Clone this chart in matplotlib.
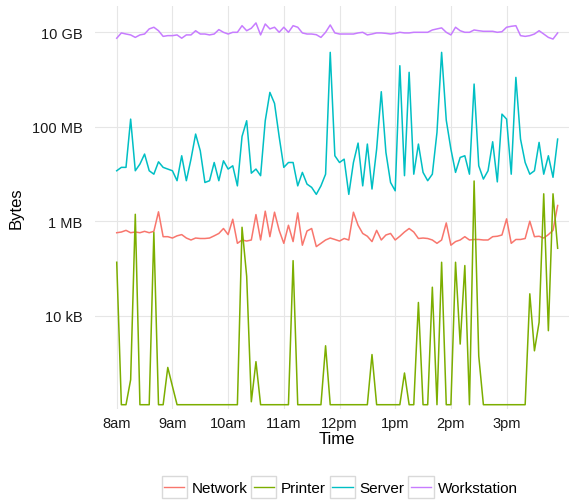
import pandas as pd
import matplotlib
matplotlib.use("Agg")
import matplotlib.pyplot as plt
from matplotlib.legend_handler import HandlerBase
from matplotlib.patches import Rectangle
from matplotlib.lines import Line2D
from matplotlib.ticker import NullLocator

plt.rcParams["font.family"] = ["Liberation Sans", "DejaVu Sans"]

KB, MB, GB = 1e3, 1e6, 1e9

# readings every 5 minutes from 8am
network_mb = [
    0.57, 0.59, 0.64, 0.57, 0.59, 0.57, 0.61, 0.57, 0.61, 1.58,
    0.47, 0.47, 0.44, 0.49, 0.52, 0.44, 0.40, 0.44, 0.43, 0.43,
    0.44, 0.49, 0.55, 0.70, 0.52, 1.10, 0.34, 0.40, 0.38, 0.40,
    1.38, 0.40, 1.63, 0.47, 1.55, 0.64, 0.34, 0.82, 0.37, 1.50,
    0.31, 0.62, 0.70, 0.29, 0.34, 0.40, 0.44, 0.41, 0.38, 0.43,
    0.40, 1.55, 0.82, 0.55, 0.48, 0.37, 0.64, 0.40, 0.51, 0.55,
    0.40, 0.48, 0.59, 0.70, 0.59, 0.43, 0.44, 0.43, 0.40, 0.34,
    0.40, 0.92, 0.31, 0.37, 0.40, 0.47, 0.40, 0.41, 0.41, 0.40,
    0.40, 0.47, 0.48, 0.51, 1.12, 0.34, 0.41, 0.41, 0.43, 1.00,
    0.47, 0.48, 0.44, 0.52, 0.64, 2.15,
]
printer_kb = [
    135, 0.13, 0.13, 0.44, 1400, 0.13, 0.13, 0.13, 580, 0.13,
    0.13, 0.80, 0.32, 0.13, 0.13, 0.13, 0.13, 0.13, 0.13, 0.13,
    0.13, 0.13, 0.13, 0.13, 0.13, 0.13, 0.13, 744, 68, 0.15,
    1.06, 0.13, 0.13, 0.13, 0.13, 0.13, 0.13, 0.13, 146, 0.13,
    0.13, 0.13, 0.13, 0.13, 0.13, 2.3, 0.13, 0.13, 0.13, 0.13,
    0.13, 0.13, 0.13, 0.13, 0.13, 1.5, 0.13, 0.13, 0.13, 0.13,
    0.13, 0.13, 0.61, 0.13, 0.13, 19, 0.13, 0.13, 40, 0.13,
    135, 0.13, 0.13, 135, 2.5, 115, 0.13, 7100, 1.4, 0.13,
    0.13, 0.13, 0.13, 0.13, 0.13, 0.13, 0.13, 0.13, 0.13, 29,
    1.8, 7.2, 3800, 4.8, 3800, 267,
]
server_mb = [
    11.7, 13.8, 13.8, 145, 11.7, 16.2, 26.4, 11.7, 9.9, 18.1,
    13.8, 12.7, 11.7, 7.2, 24.3, 7.2, 20.6, 70, 31.0, 6.6,
    7.2, 17.5, 7.2, 19.0, 12.7, 14.9, 5.6, 62.4, 134, 10.4,
    12.7, 9.2, 134, 534, 312, 61.4, 13.8, 17.5, 17.5, 5.6,
    10.8, 6.1, 5.2, 3.7, 5.6, 9.9, 3760, 24.3, 17.5, 20.6,
    3.7, 17.5, 45.1, 5.6, 43.0, 4.8, 33.6, 552, 28.6, 6.6,
    4.4, 1960, 9.2, 1420, 9.9, 43.0, 10.8, 7.2, 9.9, 75.9,
    3760, 138, 33.6, 10.8, 22.4, 24.3, 9.9, 802, 14.9, 7.8,
    11.7, 48.1, 6.8, 185, 145, 9.9, 1110, 54.8, 17.5, 9.9,
    11.7, 46.6, 9.9, 24.3, 8.5, 54.8,
]
workstation_gb = [
    7.5, 9.7, 9.2, 8.8, 7.8, 8.8, 9.2, 11.8, 12.8, 10.8,
    8.2, 8.5, 8.5, 8.8, 7.5, 8.8, 8.8, 10.8, 9.2, 9.2,
    8.8, 9.2, 11.4, 10.0, 9.2, 10.0, 10.0, 13.8, 10.8, 12.2,
    15.8, 8.8, 15.0, 11.8, 12.8, 10.0, 12.8, 10.0, 13.8, 12.8,
    9.7, 9.2, 9.2, 8.9, 7.8, 10.0, 14.3, 9.7, 9.2, 9.2,
    9.2, 9.2, 9.7, 10.0, 8.8, 9.2, 9.7, 9.7, 9.5, 9.2,
    9.5, 10.0, 9.7, 9.7, 10.0, 10.0, 10.0, 10.0, 11.2, 11.8,
    12.4, 10.0, 8.8, 12.8, 10.8, 10.0, 10.0, 11.2, 10.8, 10.5,
    10.5, 10.5, 10.0, 10.3, 12.8, 13.4, 13.8, 8.5, 8.2, 8.5,
    9.2, 10.8, 9.2, 7.8, 7.2, 9.7,
]

series_names = ["Network", "Printer", "Server", "Workstation"]
series_colors = ["#F8766D", "#7CAE00", "#00BFC4", "#C77CFF"]
hour_labels = ["8am", "9am", "10am", "11am", "12pm", "1pm", "2pm", "3pm"]
ytick_values = [1e4, 1e6, 1e8, 1e10]
ytick_labels = ["10 kB", "1 MB", "100 MB", "10 GB"]

start = pd.Timestamp("2015-01-01 08:00")
times = pd.date_range(start, periods=len(network_mb), freq="5min")
hour_ticks = pd.date_range(start, periods=len(hour_labels), freq="1h")

series_values = [
    [v * MB for v in network_mb],
    [v * KB for v in printer_kb],
    [v * MB for v in server_mb],
    [v * GB for v in workstation_gb],
]


class KeyBoxHandler(HandlerBase):
    # ggplot-like legend key: grey bordered box with a short line
    def create_artists(self, legend, orig_handle, xdescent, ydescent,
                       width, height, fontsize, trans):
        box = Rectangle((-xdescent, -ydescent), width, height,
                        facecolor="white", edgecolor="#D9D9D9", lw=1.0,
                        transform=trans)
        ymid = -ydescent + height / 2
        line = Line2D([-xdescent + 0.1 * width, -xdescent + 0.9 * width],
                      [ymid, ymid], color=orig_handle.get_color(), lw=1.0,
                      transform=trans)
        return [box, line]


fig = plt.figure(figsize=(5.69, 5.02), dpi=100)
ax = fig.add_axes([95 / 569, 92 / 502, 484 / 569, 403 / 502])

handles = []
for name, color, vals in zip(series_names, series_colors, series_values):
    (ln,) = ax.plot(times, vals, color=color, lw=1.1, label=name)
    handles.append(ln)

ax.set_yscale("log")
ax.set_ylim(10 ** 2.023, 10 ** 10.557)
ax.set_xlim(start - pd.Timedelta(hours=0.39), start + pd.Timedelta(hours=8.30))

ax.set_yticks(ytick_values, ytick_labels)
ax.yaxis.set_minor_locator(NullLocator())
ax.set_xticks(hour_ticks, hour_labels)
ax.xaxis.set_minor_locator(NullLocator())

ax.tick_params(axis="both", length=0, labelsize=10.5, labelcolor="#1a1a1a")
ax.tick_params(axis="y", pad=9)
ax.tick_params(axis="x", pad=5)
for s in ax.spines.values():
    s.set_visible(False)
ax.grid(True, color="#E6E6E6", lw=0.8)
ax.set_axisbelow(True)

ax.set_xlabel("Time", fontsize=12, color="black", labelpad=1)
ax.set_ylabel("Bytes", fontsize=12, color="black")
ax.yaxis.set_label_coords(-0.148, 0.5)

fig.legend(handles, series_names, loc="center", bbox_to_anchor=(340 / 569, 0.028),
           ncol=4, frameon=False, fontsize=11, handlelength=1.65,
           handleheight=1.8, handletextpad=0.3, columnspacing=0.25,
           borderpad=0, borderaxespad=0,
           handler_map={Line2D: KeyBoxHandler()})

fig.savefig("out.png", dpi=100)
